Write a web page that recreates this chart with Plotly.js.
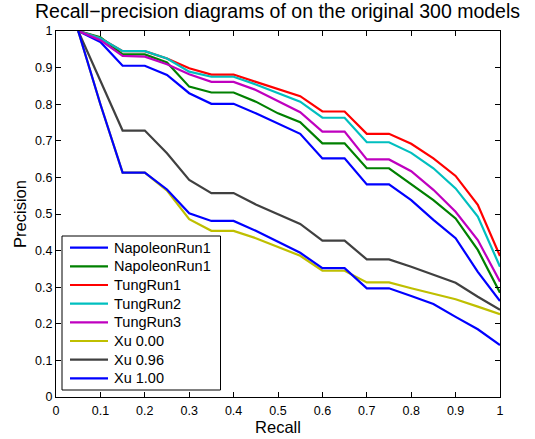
<!DOCTYPE html>
<html><head><meta charset="utf-8">
<script src="https://cdn.plot.ly/plotly-3.0.1.min.js"></script>
<style>html,body{margin:0;padding:0;background:#fff}</style>
</head><body>
<div id="chart" style="width:535px;height:439px"></div>
<script>
const recall = [0.05,0.1,0.15,0.2,0.25,0.3,0.35,0.4,0.45,0.5,0.55,0.6,0.65,0.7,0.75,0.8,0.85,0.9,0.95,1.0];
const napoleonRun1a = [1.0,0.97,0.905,0.905,0.88,0.83,0.801,0.801,0.775,0.748,0.719,0.652,0.652,0.581,0.581,0.538,0.484,0.434,0.342,0.262];
const napoleonRun1b = [1.0,0.983,0.936,0.936,0.914,0.848,0.832,0.832,0.807,0.775,0.751,0.693,0.693,0.625,0.625,0.581,0.538,0.488,0.402,0.285];
const tungRun1 = [1.0,0.98,0.945,0.945,0.925,0.898,0.881,0.881,0.861,0.841,0.822,0.78,0.78,0.719,0.719,0.692,0.652,0.604,0.525,0.385];
const tungRun2 = [1.0,0.98,0.945,0.945,0.925,0.889,0.875,0.875,0.854,0.83,0.807,0.763,0.763,0.696,0.696,0.667,0.625,0.57,0.493,0.356];
const tungRun3 = [1.0,0.975,0.932,0.93,0.909,0.882,0.861,0.861,0.839,0.809,0.778,0.725,0.725,0.649,0.649,0.617,0.566,0.506,0.429,0.315];
const xu000 = [1.0,0.8,0.613,0.613,0.564,0.486,0.454,0.454,0.434,0.409,0.386,0.345,0.345,0.313,0.313,0.297,0.281,0.267,0.247,0.226];
const xu096 = [1.0,0.866,0.728,0.728,0.666,0.593,0.557,0.557,0.526,0.499,0.473,0.427,0.427,0.376,0.376,0.356,0.333,0.312,0.274,0.238];
const xu100 = [1.0,0.8,0.613,0.613,0.567,0.502,0.481,0.481,0.454,0.424,0.394,0.352,0.352,0.297,0.297,0.276,0.254,0.219,0.185,0.142];
const names = ["NapoleonRun1","NapoleonRun1","TungRun1","TungRun2","TungRun3","Xu 0.00","Xu 0.96","Xu 1.00"];
const series = [napoleonRun1a,napoleonRun1b,tungRun1,tungRun2,tungRun3,xu000,xu096,xu100];
const colors = ["#0000ff","#008000","#ff0000","#00bfbf","#bf00bf","#bfbf00","#404040","#0000ff"];
const tickVals = [0,0.1,0.2,0.3,0.4,0.5,0.6,0.7,0.8,0.9,1];
const tickText = ["0","0.1","0.2","0.3","0.4","0.5","0.6","0.7","0.8","0.9","1"];

const W = 535, H = 439;
const M = {l:56, r:35, t:31, b:42};
const PW = W - M.l - M.r, PH = H - M.t - M.b;
const px = v => (v - M.l) / PW;          // pixel x -> paper x
const py = v => (H - M.b - v) / PH;      // pixel y -> paper y
const FONT = "Liberation Sans, Arial, Helvetica, sans-serif";

const data = series.map((s,i)=>({x:recall,y:s,type:"scatter",mode:"lines",name:names[i],
  line:{color:colors[i],width:2.2},showlegend:false}));

// custom legend (box, line samples, labels)
const shapes = [{type:"rect",xref:"paper",yref:"paper",x0:px(62),x1:px(220.5),y0:py(390),y1:py(236),
  line:{color:"#000",width:1},fillcolor:"#fff",layer:"above"}];
const annotations = [];
names.forEach((n,i)=>{
  const yy = 247.7 + i*18.66;
  shapes.push({type:"line",xref:"paper",yref:"paper",x0:px(70),x1:px(108),y0:py(yy),y1:py(yy),
    line:{color:colors[i],width:2.2},layer:"above"});
  annotations.push({xref:"paper",yref:"paper",x:px(112),y:py(yy),xanchor:"left",yanchor:"middle",
    text:n,showarrow:false,font:{family:FONT,size:14.5,color:"#000"}});
});

const ax = {range:[0,1],tickvals:tickVals,ticktext:tickText,ticks:"inside",ticklen:5,tickcolor:"#000",
  showline:true,linecolor:"#000",linewidth:1,mirror:"ticks",showgrid:false,zeroline:false,
  tickfont:{family:FONT,size:12.5,color:"#000"}};
const layout = {
  width:W,height:H,
  margin:M,
  paper_bgcolor:"#fff",plot_bgcolor:"#fff",
  font:{family:FONT,color:"#000"},
  title:{text:"Recall\u2212precision diagrams of on the original 300 models",font:{size:19.5,color:"#000"},
    x:px(277.5),xref:"paper",xanchor:"center",y:1-4/H,yanchor:"top"},
  xaxis:Object.assign({},ax,{title:{text:"Recall",font:{size:16.5},standoff:3},ticklabelstandoff:2}),
  yaxis:Object.assign({},ax,{title:{text:"Precision",font:{size:16.5},standoff:4}}),
  shapes:shapes,
  annotations:annotations,
  showlegend:false
};
Plotly.newPlot("chart",data,layout,{displayModeBar:false,staticPlot:true});
</script>
</body></html>
